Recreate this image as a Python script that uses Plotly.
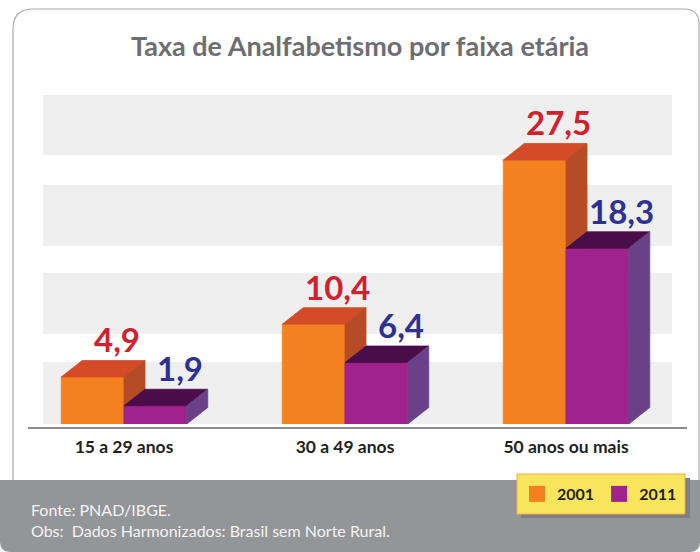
import plotly.graph_objects as go

# ---- data ----
categories = ["15 a 29 anos", "30 a 49 anos", "50 anos ou mais"]
series_names = ["2001", "2011"]
values_2001 = [4.9, 10.4, 27.5]
values_2011 = [1.9, 6.4, 18.3]
value_labels_2001 = ["4,9", "10,4", "27,5"]
value_labels_2011 = ["1,9", "6,4", "18,3"]

title_text = "Taxa de Analfabetismo por faixa etária"
footer_lines = ["Fonte: PNAD/IBGE.", "Obs:  Dados Harmonizados: Brasil sem Norte Rural."]

# ---- styles ----
FONT = "Lato"
C_FRONT = {"2001": "#F48120", "2011": "#A0228C"}
C_TOP = {"2001": "#D44B28", "2011": "#4B0D49"}
C_SIDE = {"2001": "#B64C26", "2011": "#6A4189"}
C_LABEL = {"2001": "#D1202F", "2011": "#2E3192"}

# plot area in pixels
L, R, T, B = 43, 672, 60, 424
W, H = R - L, B - T
PX_PER_UNIT = 9.6
Y_MAX = H / PX_PER_UNIT
X_MIN, X_MAX = -0.3665, 2.4796

def px(xp):
    return (xp - L) / W

def py(yp):
    return (B - yp) / H

bar_w = 0.284
dx = 0.095
dy = 1.72

fig = go.Figure()

def add_series(name, vals, offset):
    front_x, front_y, top_x, top_y, side_x, side_y = [], [], [], [], [], []
    for i, v in enumerate(vals):
        x0 = i + offset
        x1 = x0 + bar_w
        front_x += [x0, x1, x1, x0, x0, None]
        front_y += [0, 0, v, v, 0, None]
        top_x += [x0, x1, x1 + dx, x0 + dx, x0, None]
        top_y += [v, v, v + dy, v + dy, v, None]
        side_x += [x1, x1 + dx, x1 + dx, x1, x1, None]
        side_y += [0, dy, v + dy, v, 0, None]
    for xs, ys, col in [(front_x, front_y, C_FRONT[name]),
                        (top_x, top_y, C_TOP[name]),
                        (side_x, side_y, C_SIDE[name])]:
        fig.add_trace(go.Scatter(x=xs, y=ys, fill="toself", mode="lines",
                                 fillcolor=col, line=dict(color=col, width=0.8),
                                 showlegend=False, hoverinfo="skip"))

add_series("2001", values_2001, -bar_w)
add_series("2011", values_2011, 0.0)

# legend entries
for name in series_names:
    fig.add_trace(go.Scatter(x=[None], y=[None], mode="markers", name=name,
                             marker=dict(symbol="square", size=17, color=C_FRONT[name])))

annotations = []
# value labels
for name, vals, labs, off in [("2001", values_2001, value_labels_2001, -bar_w),
                              ("2011", values_2011, value_labels_2011, 0.0)]:
    for i, (v, t) in enumerate(zip(vals, labs)):
        annotations.append(dict(x=i + off + bar_w / 2 + 0.11, y=v + dy, text=t,
                                xref="x", yref="y", showarrow=False,
                                xanchor="center", yanchor="bottom", yshift=-1,
                                font=dict(family=FONT, size=33, color=C_LABEL[name], weight="bold")))

# title
annotations.append(dict(x=px(360), y=py(46), xref="paper", yref="paper", text=title_text,
                        showarrow=False, xanchor="center", yanchor="middle",
                        font=dict(family=FONT, size=27, color="#6D6E71", weight="bold")))
# footer text
for yy, t in zip([509, 530], footer_lines):
    annotations.append(dict(x=px(29), y=py(yy), xref="paper", yref="paper", text=t,
                            showarrow=False, xanchor="left", yanchor="middle",
                            font=dict(family=FONT, size=16, color="#F4F4F4")))

shapes = []
# background bands
for y0p, y1p in [(424, 362), (334, 273), (246, 185), (155, 95)]:
    shapes.append(dict(type="rect", xref="paper", yref="paper",
                       x0=px(43), x1=px(672), y0=py(y0p), y1=py(y1p),
                       fillcolor="#EFEFEF", line=dict(width=0), layer="below"))

# outer frame
def P(xp, yp):
    return f"{px(xp):.5f},{py(yp):.5f}"

frame_path = (f"M {P(13, 482)} L {P(13, 29)} Q {P(13, 9)} {P(33, 9)} "
              f"L {P(684, 9)} Q {P(699, 9)} {P(699, 24)} L {P(699, 482)}")
shapes.append(dict(type="path", xref="paper", yref="paper", path=frame_path,
                   line=dict(color="#A7A9AC", width=1.2), layer="below"))

# baseline
shapes.append(dict(type="line", xref="paper", yref="paper",
                   x0=px(28), x1=px(687), y0=py(428), y1=py(428),
                   line=dict(color="#8C8C8C", width=2)))

# footer
footer_path = (f"M {P(0, 480)} L {P(700, 480)} L {P(700, 542)} Q {P(700, 552)} {P(690, 552)} "
               f"L {P(10, 552)} Q {P(0, 552)} {P(0, 542)} Z")
shapes.append(dict(type="path", xref="paper", yref="paper", path=footer_path,
                   fillcolor="#939598", line=dict(width=0), layer="above"))

# legend box shadow + box
shapes.append(dict(type="rect", xref="paper", yref="paper",
                   x0=px(521), x1=px(690), y0=py(478), y1=py(518),
                   fillcolor="#7E7F82", line=dict(width=0), layer="above"))
shapes.append(dict(type="rect", xref="paper", yref="paper",
                   x0=px(517), x1=px(685), y0=py(474), y1=py(514),
                   fillcolor="#F8E55C", line=dict(color="#F5AB52", width=1), layer="above"))

fig.update_layout(
    width=700, height=552,
    margin=dict(l=L, r=700 - R, t=T, b=552 - B),
    paper_bgcolor="white", plot_bgcolor="rgba(0,0,0,0)",
    showlegend=True,
    legend=dict(orientation="h", x=px(517), y=py(477), xanchor="left", yanchor="top",
                bgcolor="rgba(0,0,0,0)", borderwidth=0,
                font=dict(family=FONT, size=16, color="#231F20", weight="bold")),
    xaxis=dict(range=[X_MIN, X_MAX], tickvals=[0, 1, 2], ticktext=categories,
               showgrid=False, zeroline=False, showline=False, ticks="",
               ticklabelstandoff=10,
               tickfont=dict(family=FONT, size=17.5, color="#231F20", weight="bold"),
               fixedrange=True),
    yaxis=dict(range=[0, Y_MAX], visible=False, fixedrange=True),
    shapes=shapes,
    annotations=annotations,
)

fig.write_html("out.html", config={"displayModeBar": False},
               post_script="document.body.style.margin='0';document.body.style.overflow='hidden';")
